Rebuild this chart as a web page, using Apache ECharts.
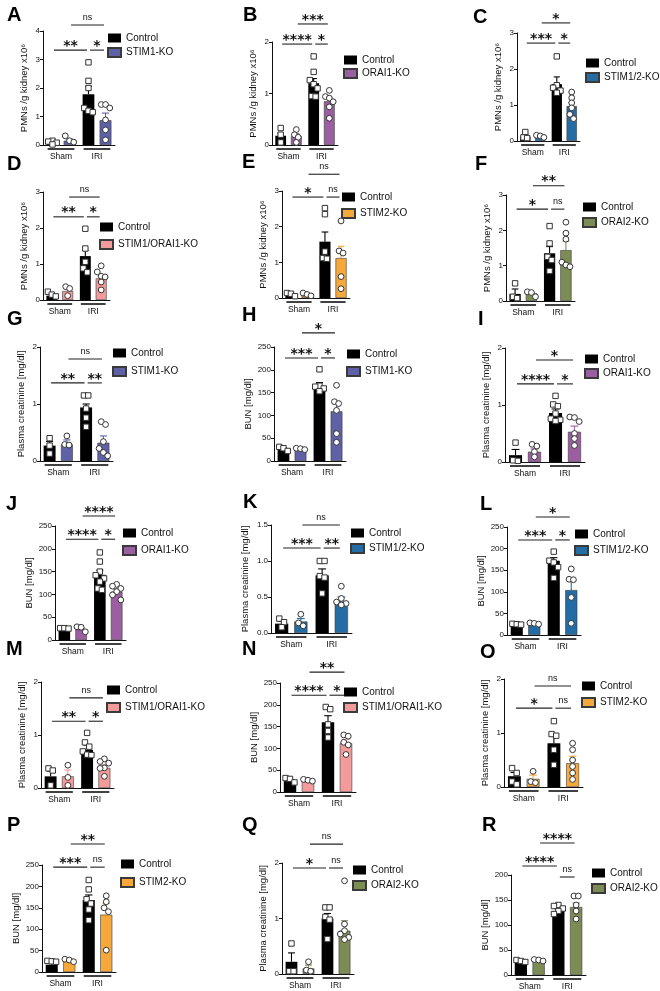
<!DOCTYPE html>
<html>
<head>
<meta charset="utf-8">
<script src="https://cdn.jsdelivr.net/npm/echarts@6/dist/echarts.min.js"></script>
<style>
html, body { margin: 0; padding: 0; background: #fff; }
#chart { width: 660px; height: 991px; }
</style>
</head>
<body>
<div id="chart"></div>
<script>
// ---- data ----
const panelLetters = ['A', 'B', 'C', 'D', 'E', 'F', 'G', 'H', 'I', 'J', 'K', 'L', 'M', 'N', 'O', 'P', 'Q', 'R'];
const groupLabels = ['Sham', 'IRI'];
const koNames = ['STIM1-KO', 'ORAI1-KO', 'STIM1/2-KO', 'STIM1/ORAI1-KO', 'STIM2-KO', 'ORAI2-KO',
    'STIM1-KO', 'STIM1-KO', 'ORAI1-KO', 'ORAI1-KO', 'STIM1/2-KO', 'STIM1/2-KO',
    'STIM1/ORAI1-KO', 'STIM1/ORAI1-KO', 'STIM2-KO', 'STIM2-KO', 'ORAI2-KO', 'ORAI2-KO'];
const pmnTitle = 'PMNs /g kidney x10⁶';
const creaTitle = 'Plasma creatinine [mg/dl]';
const bunTitle = 'BUN [mg/dl]';
const yTitles = [pmnTitle, pmnTitle, pmnTitle, pmnTitle, pmnTitle, pmnTitle,
    creaTitle, bunTitle, creaTitle, bunTitle, creaTitle, bunTitle,
    creaTitle, bunTitle, creaTitle, bunTitle, creaTitle, bunTitle];
const yMax = [4, 2, 3, 3, 3, 3, 2, 250, 2, 250, 1.5, 250, 2, 250, 2, 250, 2, 200];
const yStep = [1, 1, 1, 1, 1, 1, 1, 50, 1, 50, 0.5, 50, 1, 50, 1, 50, 1, 50];

// bar order: Sham Control, Sham KO, IRI Control, IRI KO
const barMeans = [
    [0.07, 0.15, 1.78, 0.87],
    [0.18, 0.17, 1.2, 0.85],
    [0.12, 0.12, 1.58, 0.97],
    [0.12, 0.25, 1.22, 0.6],
    [0.08, 0.06, 1.58, 1.12],
    [0.2, 0.22, 1.35, 1.44],
    [0.27, 0.29, 0.94, 0.32],
    [26, 25, 164, 109],
    [0.12, 0.18, 0.86, 0.53],
    [20, 23, 143, 106],
    [0.13, 0.16, 0.8, 0.44],
    [22, 25, 172, 104],
    [0.22, 0.22, 0.72, 0.38],
    [25, 24, 160, 112],
    [0.2, 0.15, 0.81, 0.44],
    [17, 25, 168, 134],
    [0.22, 0.1, 1.0, 0.78],
    [25, 28, 128, 136]
];
const barSems = [
    [0.04, 0.06, 0.28, 0.25],
    [0.05, 0.05, 0.09, 0.06],
    [0.08, 0.03, 0.2, 0.1],
    [0.04, 0.07, 0.16, 0.07],
    [0.03, 0.02, 0.27, 0.33],
    [0.14, 0.03, 0.19, 0.25],
    [0.07, 0.08, 0.06, 0.12],
    [3, 2, 8, 19],
    [0.1, 0.05, 0.07, 0.1],
    [5, 4, 10, 6],
    [0.03, 0.04, 0.09, 0.06],
    [4, 2, 7, 20],
    [0.1, 0.12, 0.09, 0.06],
    [3, 2, 15, 9],
    [0.07, 0.07, 0.13, 0.13],
    [9, 6, 12, 26],
    [0.16, 0.06, 0.09, 0.18],
    [3, 2, 4, 8]
];
const pointValues = [
    [[0.15, 0.12, 0.08, 0.02], [0.32, 0.15, 0.1], [2.9, 2.25, 2.0, 1.3, 1.2, 1.15], [1.42, 1.42, 1.3, 0.88, 0.53, 0.18]],
    [[0.33, 0.2, 0.05], [0.3, 0.2, 0.15, 0.05], [1.72, 1.42, 1.26, 1.18, 1.1, 0.95, 0.94], [1.06, 0.94, 0.91, 0.84, 0.74, 0.52]],
    [[0.25, 0.1, 0.08], [0.16, 0.14, 0.1], [2.35, 1.55, 1.48, 1.4, 1.34], [1.36, 1.2, 1.06, 0.92, 0.74, 0.62]],
    [[0.23, 0.15, 0.1], [0.37, 0.32, 0.12], [1.98, 1.43, 1.06, 0.88, 0.77], [0.95, 0.78, 0.66, 0.64, 0.5, 0.28]],
    [[0.14, 0.12, 0.05], [0.14, 0.1, 0.06], [2.52, 2.35, 1.3, 1.12, 1.1], [2.16, 1.32, 1.26, 0.6, 0.26]],
    [[0.5, 0.12, 0.08], [0.26, 0.24, 0.12], [2.12, 1.63, 1.25, 1.16, 0.85], [2.23, 1.92, 1.75, 1.1, 1.02, 0.97]],
    [[0.4, 0.27, 0.13], [0.44, 0.29, 0.28], [1.15, 1.15, 0.92, 0.76, 0.6], [0.69, 0.64, 0.34, 0.22, 0.15, 0.09]],
    [[31, 28, 22], [28, 27, 25], [201, 165, 163, 159, 153], [166, 130, 126, 111, 60, 41]],
    [[0.34, 0.03, 0.02], [0.31, 0.28, 0.18, 0.09], [1.16, 1.01, 0.98, 0.85, 0.76, 0.74, 0.72], [0.79, 0.78, 0.71, 0.5, 0.41, 0.29]],
    [[26, 26, 25], [29, 28, 18], [192, 172, 150, 142, 135, 128, 113, 110], [122, 118, 113, 106, 99, 88]],
    [[0.2, 0.15, 0.08], [0.26, 0.14, 0.1], [1.0, 1.0, 0.79, 0.77, 0.55], [0.65, 0.48, 0.43, 0.41, 0.39]],
    [[26, 25, 24], [28, 27, 25], [193, 172, 168, 157, 132], [153, 129, 128, 87, 27]],
    [[0.37, 0.33, 0.05], [0.43, 0.2, 0.05], [1.04, 0.86, 0.78, 0.69, 0.63, 0.62], [0.55, 0.5, 0.47, 0.38, 0.37, 0.22]],
    [[32, 30, 22], [29, 27, 25], [195, 190, 155, 140, 125], [131, 128, 114, 108, 86]],
    [[0.35, 0.26, 0.1, 0.05], [0.29, 0.1, 0.08], [1.22, 0.98, 0.95, 0.69, 0.41], [0.81, 0.69, 0.5, 0.38, 0.26, 0.14]],
    [[26, 25, 24], [30, 28, 24], [215, 193, 170, 160, 146, 121], [178, 164, 150, 141, 51]],
    [[0.55, 0.05, 0.05], [0.22, 0.07, 0.05], [1.2, 1.2, 1.03, 0.98, 0.63], [1.68, 0.9, 0.78, 0.72, 0.66, 0.62]],
    [[30, 28, 26], [31, 30, 28], [140, 138, 133, 128, 122], [158, 158, 140, 128, 112]]
];
// [from bar, to bar, height in axis units, label]
const brackets = [
    [[0, 2, 3.33, '**'], [2, 3, 3.33, '*'], [1, 3, 4.21, 'ns']],
    [[0, 2, 1.96, '****'], [2, 3, 1.96, '*'], [1, 3, 2.35, '***']],
    [[0, 2, 2.72, '***'], [2, 3, 2.72, '*'], [1, 3, 3.28, '*']],
    [[0, 2, 2.31, '**'], [2, 3, 2.31, '*'], [1, 3, 2.86, 'ns']],
    [[0, 2, 2.83, '*'], [2, 3, 2.83, 'ns'], [1, 3, 3.47, 'ns']],
    [[0, 2, 2.6, '*'], [2, 3, 2.6, 'ns'], [1, 3, 3.26, '**']],
    [[0, 2, 1.37, '**'], [2, 3, 1.37, '**'], [1, 3, 1.79, 'ns']],
    [[0, 2, 226, '***'], [2, 3, 226, '*'], [1, 3, 281, '*']],
    [[0, 2, 1.37, '****'], [2, 3, 1.37, '*'], [1, 3, 1.79, '*']],
    [[0, 2, 221, '****'], [2, 3, 221, '*'], [1, 3, 272, '****']],
    [[0, 2, 1.18, '***'], [2, 3, 1.18, '**'], [1, 3, 1.5, 'ns']],
    [[0, 2, 220, '***'], [2, 3, 220, '*'], [1, 3, 273, '*']],
    [[0, 2, 1.26, '**'], [2, 3, 1.26, '*'], [1, 3, 1.7, 'ns']],
    [[0, 2, 222, '****'], [2, 3, 222, '*'], [1, 3, 275, '**']],
    [[0, 2, 1.46, '*'], [2, 3, 1.46, 'ns'], [1, 3, 1.87, 'ns']],
    [[0, 2, 245, '***'], [2, 3, 245, 'ns'], [1, 3, 299, '**']],
    [[0, 2, 1.91, '*'], [2, 3, 1.91, 'ns'], [1, 3, 2.34, 'ns']],
    [[0, 2, 218, '****'], [2, 3, 196, 'ns'], [1, 3, 264, '****']]
];

// ---- layout (px) ----
// axis box: left, top (max tick), right, bottom (zero)
const boxes = [
    [43, 31, 115, 145], [272, 42, 338, 145], [517, 33, 580, 141],
    [43, 192, 110, 300], [282, 191, 350, 298], [506, 195, 575, 301],
    [40, 347, 113, 461], [274, 347, 346, 461], [505, 348, 585, 462],
    [55, 526, 126, 640], [271, 525, 352, 633], [507, 527, 581, 635],
    [41, 682, 114, 788], [280, 683, 356, 792], [504, 679, 583, 787],
    [42, 865, 116, 972], [282, 863, 354, 974], [511, 875, 586, 975]
];
// legend: icon left, centre of first row, centre of second row
const legendPos = [
    [107, 38, 52], [343, 60, 73], [585, 63, 77],
    [99, 227, 244], [341, 197, 213], [582, 207, 222],
    [112, 353, 371], [346, 354, 371], [584, 359, 373],
    [122, 533, 550], [350, 533, 548], [574, 534, 550],
    [106, 690, 707], [343, 692, 707], [581, 686, 702],
    [120, 864, 882], [352, 870, 885], [591, 873, 888]
];
const letterPos = [
    [7, 5], [243, 5], [473, 7], [7, 154], [242, 152], [475, 154],
    [7, 309], [242, 305], [478, 309], [6, 494], [243, 492], [480, 494],
    [6, 639], [242, 639], [480, 642], [7, 815], [242, 815], [482, 815]
];

const koColors = {
    'STIM1-KO': '#5E61A6',
    'ORAI1-KO': '#9B5EA0',
    'STIM1/2-KO': '#236CA4',
    'STIM1/ORAI1-KO': '#F39A9B',
    'STIM2-KO': '#F6A83A',
    'ORAI2-KO': '#7D8C55'
};

const FONT = '"Liberation Sans", Arial, Helvetica, sans-serif';
const CAT_GAP = 0.2, BAR_GAP = 0.45;

function barGeom(api) {
    const band = api.size([1, 0])[0];
    const bw = band * (1 - CAT_GAP) / (2 + BAR_GAP);
    return {bw: bw, off: bw * (1 + BAR_GAP) / 2};
}
function barX(api, g, b) {
    const c = api.coord([b >> 1, 0])[0];
    return c + (b % 2 ? 1 : -1) * g.off;
}
// horizontal offsets for points that sit on top of each other
function spread(vals, max) {
    const order = vals.map((v, i) => [v, i]).sort((a, b) => b[0] - a[0]);
    const dx = vals.map(() => 0);
    const thr = max * 0.045;
    let group = [order[0]];
    const flush = () => group.forEach((it, k) => {
        dx[it[1]] = group.length > 3 ? [0, -1, 1][k % 3] : k - (group.length - 1) / 2;
    });
    for (let k = 1; k < order.length; k++) {
        if (group[group.length - 1][0] - order[k][0] < thr) group.push(order[k]);
        else { flush(); group = [order[k]]; }
    }
    flush();
    return dx;
}

const grids = [], xAxes = [], yAxes = [], series = [], legends = [], titles = [];

panelLetters.forEach((letter, p) => {
    const box = boxes[p];
    const ko = koNames[p];
    const koColor = koColors[ko];
    grids.push({left: box[0], top: box[1], width: box[2] - box[0], height: box[3] - box[1]});
    xAxes.push({
        type: 'category', gridIndex: p, data: groupLabels,
        axisLine: {lineStyle: {color: '#111', width: 1}},
        axisTick: {show: false},
        axisLabel: {fontSize: 8.5, color: '#111', fontFamily: FONT, margin: 7}
    });
    yAxes.push({
        type: 'value', gridIndex: p, min: 0, max: yMax[p], interval: yStep[p],
        name: yTitles[p], nameLocation: 'middle', nameGap: yMax[p] >= 100 ? 21 : (yStep[p] < 1 ? 21 : 14),
        nameTextStyle: {fontSize: 9.5, color: '#111', fontFamily: FONT},
        axisLine: {show: true, lineStyle: {color: '#111', width: 1}},
        axisTick: {show: true, length: 3, lineStyle: {color: '#111'}},
        splitLine: {show: false},
        axisLabel: {
            fontSize: 8, color: '#111', fontFamily: FONT, margin: 3,
            formatter: v => yStep[p] < 1 ? v.toFixed(1) : String(v)
        }
    });
    titles.push({
        text: letter, left: letterPos[p][0], top: letterPos[p][1], padding: 0,
        textStyle: {fontSize: 20, fontWeight: 'bold', color: '#000', fontFamily: FONT}
    });
    const lp = legendPos[p];
    legends.push({
        orient: 'vertical', left: lp[0], top: lp[1] - 5, padding: 0,
        itemWidth: 13, itemHeight: 9, itemGap: lp[2] - lp[1] - 10,
        selectedMode: false,
        data: [{name: 'Control', icon: 'rect'}, {name: ko, icon: 'rect'}],
        textStyle: {fontSize: 10, color: '#111', fontFamily: FONT, lineHeight: 10}
    });

    const m = barMeans[p], s = barSems[p];
    series.push({
        type: 'bar', name: 'Control', xAxisIndex: p, yAxisIndex: p,
        data: [m[0], m[2]], barGap: (BAR_GAP * 100) + '%', barCategoryGap: (CAT_GAP * 100) + '%',
        itemStyle: {color: '#000'}, silent: true, z: 2
    });
    series.push({
        type: 'bar', name: ko, xAxisIndex: p, yAxisIndex: p,
        data: [m[1], m[3]], barGap: (BAR_GAP * 100) + '%', barCategoryGap: (CAT_GAP * 100) + '%',
        itemStyle: {color: koColor, borderColor: '#3a3a3a', borderWidth: 0.6}, silent: true, z: 2
    });

    // error bars (SEM, upper side only)
    series.push({
        type: 'custom', name: 'err' + p, xAxisIndex: p, yAxisIndex: p, silent: true, clip: false, z: 3,
        data: m.map((v, b) => [b >> 1, v, v + s[b], b]),
        renderItem: (params, api) => {
            const g = barGeom(api);
            const b = api.value(3);
            const x = barX(api, g, b);
            const y0 = api.coord([0, api.value(1)])[1];
            const y1 = api.coord([0, api.value(2)])[1];
            const cap = g.bw * 0.3;
            const col = b % 2 ? koColor : '#000';
            return {
                type: 'group', children: [
                    {type: 'line', shape: {x1: x, y1: y0, x2: x, y2: y1}, style: {stroke: col, lineWidth: 1.1}},
                    {type: 'line', shape: {x1: x - cap, y1: y1, x2: x + cap, y2: y1}, style: {stroke: col, lineWidth: 1.1}}
                ]
            };
        }
    });

    // individual animals
    const pts = [];
    pointValues[p].forEach((vals, b) => {
        const dx = spread(vals, yMax[p]);
        vals.forEach((v, i) => pts.push([b >> 1, v, b, dx[i]]));
    });
    series.push({
        type: 'custom', name: 'pts' + p, xAxisIndex: p, yAxisIndex: p, silent: true, clip: false, z: 4,
        data: pts,
        renderItem: (params, api) => {
            const g = barGeom(api);
            const b = api.value(2);
            const x = barX(api, g, b) + api.value(3) * g.bw * 0.36;
            const y = api.coord([0, api.value(1)])[1];
            const style = {fill: '#fff', stroke: '#333', lineWidth: 1};
            if (b % 2 === 0) {
                return {type: 'rect', shape: {x: x - 2.7, y: y - 2.7, width: 5.4, height: 5.4}, style: style};
            }
            return {type: 'circle', shape: {cx: x, cy: y, r: 2.9}, style: style};
        }
    });

    // significance brackets
    series.push({
        type: 'custom', name: 'sig' + p, xAxisIndex: p, yAxisIndex: p, silent: true, clip: false, z: 4,
        data: brackets[p].map(br => [br[0], br[1], br[2]]),
        renderItem: (params, api) => {
            const g = barGeom(api);
            const x1 = barX(api, g, api.value(0)) + 1.5;
            const x2 = barX(api, g, api.value(1)) - 1.5;
            const y = api.coord([0, api.value(2)])[1];
            const label = brackets[p][params.dataIndex][3];
            const stars = label !== 'ns';
            return {
                type: 'group', children: [
                    {type: 'line', shape: {x1: x1, y1: y, x2: x2, y2: y}, style: {stroke: '#222', lineWidth: 1.1}},
                    {
                        type: 'text', x: (x1 + x2) / 2, y: stars ? y - 4 : y - 7.5,
                        style: {
                            text: label, align: 'center', verticalAlign: 'middle', fill: '#111',
                            font: stars ? 'bold 14px "DejaVu Sans", sans-serif' : '9px ' + FONT
                        }
                    }
                ]
            };
        }
    });

    // group underline below the axis
    series.push({
        type: 'custom', name: 'grp' + p, xAxisIndex: p, yAxisIndex: p, silent: true, clip: false, z: 4,
        data: [[0, 0], [1, 0]],
        renderItem: (params, api) => {
            const g = barGeom(api);
            const c = api.coord([api.value(0), 0]);
            const half = g.off + g.bw / 2 - 1;
            return {
                type: 'line', shape: {x1: c[0] - half, y1: c[1] + 4, x2: c[0] + half, y2: c[1] + 4},
                style: {stroke: '#111', lineWidth: 1.6}
            };
        }
    });
});

const chart = echarts.init(document.getElementById('chart'), null, {renderer: 'canvas'});
chart.setOption({
    backgroundColor: '#fff',
    animation: false,
    textStyle: {fontFamily: FONT},
    title: titles,
    legend: legends,
    grid: grids,
    xAxis: xAxes,
    yAxis: yAxes,
    series: series
});
</script>
</body>
</html>
